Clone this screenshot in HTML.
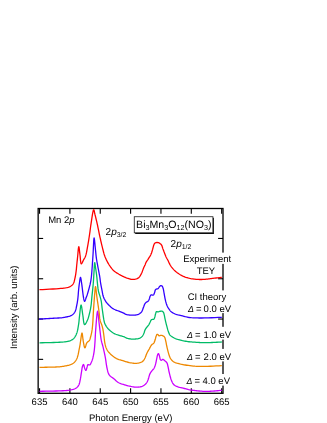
<!DOCTYPE html>
<html><head><meta charset="utf-8"><title>Mn 2p XAS</title>
<style>
html,body{margin:0;padding:0;background:#fff;}
svg{display:block;}
text{font-family:"Liberation Sans",Arial,sans-serif;font-size:9.5px;fill:#000;text-rendering:geometricPrecision;}
.i{font-style:italic;}
</style></head><body>
<svg width="327" height="423" viewBox="0 0 327 423">
<rect width="327" height="423" fill="#fff"/>
<rect x="38.15" y="208.5" width="184.85" height="184.8" fill="none" stroke="#000" stroke-width="1.3"/>
<g stroke="#000" stroke-width="1.1">
<line x1="39.55" y1="393.3" x2="39.55" y2="388.3"/><line x1="39.55" y1="208.5" x2="39.55" y2="213.8"/>
<line x1="69.90" y1="393.3" x2="69.90" y2="388.3"/><line x1="69.90" y1="208.5" x2="69.90" y2="213.8"/>
<line x1="100.25" y1="393.3" x2="100.25" y2="388.3"/><line x1="100.25" y1="208.5" x2="100.25" y2="213.8"/>
<line x1="130.60" y1="393.3" x2="130.60" y2="388.3"/><line x1="130.60" y1="208.5" x2="130.60" y2="213.8"/>
<line x1="160.95" y1="393.3" x2="160.95" y2="388.3"/><line x1="160.95" y1="208.5" x2="160.95" y2="213.8"/>
<line x1="191.30" y1="393.3" x2="191.30" y2="388.3"/><line x1="191.30" y1="208.5" x2="191.30" y2="213.8"/>
<line x1="221.65" y1="393.3" x2="221.65" y2="388.3"/><line x1="221.65" y1="208.5" x2="221.65" y2="213.8"/>
<line x1="38.15" y1="238.45" x2="43.15" y2="238.45"/><line x1="223.0" y1="238.45" x2="218.1" y2="238.45"/>
<line x1="38.15" y1="278.75" x2="43.15" y2="278.75"/><line x1="223.0" y1="278.75" x2="218.1" y2="278.75"/>
<line x1="38.15" y1="319.05" x2="43.15" y2="319.05"/><line x1="223.0" y1="319.05" x2="218.1" y2="319.05"/>
<line x1="38.15" y1="359.35" x2="43.15" y2="359.35"/><line x1="223.0" y1="359.35" x2="218.1" y2="359.35"/>
</g>
<g>
<polyline points="39.50,391.30 42.80,391.24 46.18,391.20 49.56,391.15 52.86,391.09 56.00,391.01 58.90,390.90 60.90,390.81 62.82,390.73 64.64,390.63 66.38,390.51 68.03,390.34 69.60,390.10 70.77,389.89 71.91,389.66 72.99,389.41 74.01,389.11 74.95,388.75 75.80,388.30 76.43,387.86 77.00,387.38 77.52,386.85 77.99,386.27 78.41,385.66 78.80,385.00 79.17,384.19 79.47,383.31 79.70,382.38 79.91,381.40 80.10,380.41 80.30,379.40 80.53,378.22 80.74,376.99 80.93,375.72 81.12,374.45 81.31,373.20 81.50,372.00 81.67,370.91 81.84,369.80 82.00,368.70 82.18,367.67 82.37,366.75 82.60,366.00 82.74,365.64 82.89,365.29 83.04,364.98 83.20,364.72 83.35,364.55 83.50,364.50 83.71,364.73 83.90,365.27 84.09,366.02 84.28,366.86 84.48,367.65 84.70,368.30 84.89,368.74 85.09,369.22 85.30,369.67 85.51,370.05 85.71,370.31 85.90,370.40 86.10,370.23 86.29,369.82 86.48,369.25 86.66,368.60 86.83,367.96 87.00,367.40 87.14,366.91 87.25,366.37 87.36,365.84 87.49,365.36 87.66,364.96 87.90,364.70 88.16,364.63 88.48,364.68 88.83,364.78 89.18,364.89 89.51,364.95 89.80,364.90 90.07,364.70 90.31,364.41 90.52,364.05 90.71,363.64 90.90,363.22 91.10,362.80 91.35,362.27 91.60,361.70 91.84,361.10 92.07,360.48 92.29,359.84 92.50,359.20 92.72,358.47 92.92,357.72 93.10,356.94 93.28,356.16 93.45,355.38 93.60,354.60 93.74,353.85 93.87,353.10 93.99,352.36 94.09,351.60 94.20,350.82 94.30,350.00 94.42,348.98 94.52,347.95 94.62,346.88 94.71,345.76 94.80,344.57 94.90,343.30 95.03,341.32 95.14,339.17 95.26,336.88 95.38,334.49 95.52,332.05 95.70,329.60 95.96,326.26 96.26,322.30 96.59,318.27 96.94,314.71 97.28,312.17 97.60,311.20 97.83,311.74 98.06,313.16 98.29,315.20 98.52,317.57 98.76,320.00 99.00,322.20 99.31,324.80 99.65,327.69 99.99,330.66 100.32,333.50 100.63,336.02 100.90,338.00 101.00,338.68 101.09,339.25 101.18,339.75 101.27,340.22 101.37,340.73 101.50,341.30 101.71,342.17 101.96,343.08 102.24,344.03 102.53,345.04 102.82,346.09 103.10,347.20 103.48,348.80 103.88,350.55 104.28,352.38 104.68,354.25 105.06,356.11 105.40,357.90 105.67,359.54 105.91,361.19 106.12,362.82 106.34,364.42 106.59,365.99 106.90,367.50 107.19,368.84 107.48,370.17 107.80,371.47 108.17,372.72 108.62,373.87 109.20,374.90 109.83,375.68 110.56,376.35 111.35,376.96 112.18,377.52 113.01,378.09 113.80,378.70 114.54,379.35 115.26,380.02 115.97,380.70 116.71,381.35 117.47,381.96 118.30,382.50 119.24,382.99 120.23,383.42 121.26,383.79 122.32,384.14 123.41,384.47 124.50,384.80 125.72,385.17 126.99,385.54 128.29,385.89 129.59,386.20 130.87,386.48 132.10,386.70 133.16,386.86 134.21,386.99 135.24,387.08 136.26,387.14 137.24,387.15 138.20,387.10 139.02,387.02 139.82,386.90 140.61,386.75 141.37,386.55 142.10,386.30 142.80,386.00 143.46,385.64 144.10,385.22 144.72,384.76 145.29,384.26 145.83,383.73 146.30,383.20 146.67,382.72 146.98,382.23 147.25,381.72 147.50,381.18 147.75,380.61 148.00,380.00 148.33,379.08 148.64,378.03 148.93,376.92 149.23,375.82 149.55,374.79 149.90,373.90 150.17,373.35 150.46,372.86 150.75,372.41 151.06,371.98 151.37,371.54 151.70,371.10 152.07,370.63 152.47,370.18 152.88,369.73 153.29,369.28 153.67,368.80 154.00,368.30 154.29,367.75 154.55,367.20 154.78,366.62 154.99,366.01 155.19,365.37 155.40,364.70 155.66,363.73 155.91,362.65 156.15,361.51 156.37,360.38 156.59,359.29 156.80,358.30 156.95,357.60 157.09,356.90 157.23,356.23 157.37,355.61 157.53,355.06 157.70,354.60 157.81,354.36 157.92,354.13 158.04,353.92 158.16,353.75 158.28,353.63 158.40,353.60 158.55,353.70 158.71,353.93 158.86,354.27 159.01,354.67 159.16,355.09 159.30,355.50 159.49,356.13 159.65,356.88 159.81,357.67 159.98,358.44 160.17,359.11 160.40,359.60 160.53,359.79 160.67,359.95 160.82,360.09 160.97,360.20 161.13,360.27 161.30,360.30 161.51,360.24 161.73,360.08 161.97,359.86 162.20,359.64 162.45,359.47 162.70,359.40 163.00,359.45 163.31,359.60 163.63,359.81 163.95,360.07 164.28,360.34 164.60,360.60 165.00,360.91 165.41,361.23 165.82,361.58 166.22,361.95 166.59,362.36 166.90,362.80 167.17,363.33 167.38,363.91 167.55,364.52 167.70,365.16 167.84,365.82 168.00,366.50 168.19,367.35 168.37,368.25 168.55,369.18 168.72,370.13 168.90,371.07 169.10,372.00 169.32,372.94 169.55,373.92 169.80,374.89 170.04,375.83 170.28,376.71 170.50,377.50 170.63,377.97 170.75,378.39 170.86,378.78 170.98,379.16 171.13,379.56 171.30,380.00 171.58,380.69 171.90,381.46 172.25,382.26 172.65,383.04 173.09,383.77 173.60,384.40 174.14,384.90 174.73,385.33 175.36,385.71 176.04,386.06 176.75,386.38 177.50,386.70 178.52,387.07 179.64,387.40 180.82,387.69 182.02,387.97 183.19,388.23 184.30,388.50 185.21,388.74 186.10,388.98 186.96,389.21 187.82,389.43 188.66,389.63 189.50,389.80 190.27,389.93 191.03,390.04 191.78,390.14 192.53,390.23 193.27,390.31 194.00,390.40 194.67,390.49 195.30,390.58 195.94,390.66 196.58,390.74 197.26,390.82 198.00,390.90 199.11,391.00 200.33,391.11 201.60,391.21 202.91,391.30 204.22,391.37 205.50,391.40 206.74,391.40 207.98,391.37 209.21,391.33 210.46,391.26 211.72,391.18 213.00,391.10 214.43,391.00 215.88,390.87 217.36,390.73 218.84,390.58 220.33,390.44 221.80,390.30" fill="none" stroke="#cc00ff" stroke-width="1.3" stroke-linejoin="round" stroke-linecap="butt"/>
<polyline points="39.50,367.40 40.92,367.37 42.34,367.33 43.77,367.30 45.19,367.27 46.60,367.23 48.00,367.20 49.36,367.17 50.74,367.15 52.11,367.12 53.45,367.09 54.76,367.05 56.00,367.00 56.98,366.95 57.91,366.90 58.82,366.85 59.71,366.78 60.60,366.70 61.50,366.60 62.43,366.47 63.37,366.33 64.31,366.16 65.23,365.98 66.13,365.80 67.00,365.60 67.73,365.43 68.44,365.26 69.14,365.08 69.81,364.88 70.47,364.66 71.10,364.40 71.68,364.13 72.25,363.84 72.80,363.52 73.33,363.18 73.83,362.81 74.30,362.40 74.75,361.94 75.17,361.45 75.57,360.92 75.94,360.36 76.28,359.79 76.60,359.20 76.90,358.57 77.16,357.92 77.39,357.24 77.60,356.55 77.80,355.83 78.00,355.10 78.22,354.23 78.41,353.31 78.59,352.37 78.76,351.43 78.93,350.50 79.10,349.60 79.26,348.81 79.42,348.03 79.57,347.26 79.72,346.50 79.87,345.74 80.00,345.00 80.11,344.33 80.20,343.70 80.29,343.07 80.38,342.42 80.48,341.74 80.60,341.00 80.80,339.64 81.02,337.94 81.27,336.17 81.52,334.58 81.77,333.44 82.00,333.00 82.22,333.45 82.42,334.62 82.62,336.27 82.83,338.13 83.05,339.96 83.30,341.50 83.54,342.77 83.79,344.17 84.05,345.55 84.32,346.74 84.61,347.57 84.90,347.90 85.16,347.65 85.43,346.96 85.71,346.02 85.99,344.99 86.29,344.03 86.60,343.30 86.81,342.97 87.01,342.67 87.23,342.41 87.45,342.16 87.67,341.93 87.90,341.70 88.13,341.51 88.37,341.35 88.61,341.20 88.86,341.04 89.09,340.85 89.30,340.60 89.59,340.09 89.85,339.48 90.08,338.79 90.29,338.04 90.49,337.27 90.70,336.50 90.95,335.57 91.19,334.60 91.41,333.59 91.63,332.57 91.82,331.53 92.00,330.50 92.16,329.44 92.29,328.36 92.41,327.28 92.51,326.19 92.61,325.09 92.70,324.00 92.78,322.89 92.86,321.79 92.92,320.68 92.98,319.56 93.04,318.43 93.10,317.30 93.17,316.10 93.23,314.88 93.29,313.66 93.36,312.43 93.43,311.21 93.50,310.00 93.58,308.83 93.65,307.69 93.74,306.55 93.82,305.39 93.91,304.22 94.00,303.00 94.11,301.55 94.22,300.05 94.33,298.51 94.45,296.98 94.57,295.46 94.70,294.00 94.82,292.55 94.94,290.93 95.07,289.33 95.20,287.95 95.34,286.97 95.50,286.60 95.71,287.14 95.93,288.55 96.17,290.55 96.41,292.82 96.66,295.07 96.90,297.00 97.12,298.54 97.34,300.06 97.56,301.56 97.78,303.03 97.99,304.48 98.20,305.90 98.38,307.13 98.55,308.33 98.72,309.50 98.89,310.67 99.05,311.83 99.20,313.00 99.33,314.18 99.43,315.39 99.53,316.59 99.64,317.77 99.79,318.91 100.00,320.00 100.25,320.90 100.55,321.75 100.87,322.59 101.21,323.40 101.52,324.20 101.80,325.00 102.02,325.71 102.21,326.40 102.40,327.07 102.57,327.76 102.74,328.46 102.90,329.20 103.07,330.10 103.23,331.02 103.37,331.97 103.51,332.95 103.65,333.96 103.80,335.00 103.97,336.33 104.14,337.75 104.30,339.21 104.48,340.66 104.68,342.05 104.90,343.30 105.08,344.16 105.27,344.96 105.46,345.73 105.68,346.46 105.92,347.18 106.20,347.90 106.49,348.58 106.79,349.23 107.11,349.87 107.47,350.50 107.90,351.14 108.40,351.80 109.28,352.82 110.33,353.91 111.50,355.01 112.74,356.08 114.03,357.06 115.30,357.90 116.50,358.54 117.75,359.07 119.02,359.52 120.31,359.92 121.61,360.31 122.90,360.70 124.18,361.11 125.48,361.51 126.79,361.89 128.09,362.25 129.36,362.55 130.60,362.80 131.66,362.98 132.71,363.13 133.75,363.24 134.76,363.32 135.74,363.34 136.70,363.30 137.53,363.21 138.36,363.08 139.18,362.90 139.95,362.69 140.66,362.46 141.30,362.20 141.70,362.01 142.07,361.81 142.40,361.59 142.71,361.36 143.01,361.09 143.30,360.80 143.62,360.42 143.92,359.99 144.20,359.54 144.47,359.05 144.73,358.53 145.00,358.00 145.33,357.28 145.63,356.49 145.93,355.66 146.24,354.81 146.56,353.99 146.90,353.20 147.26,352.49 147.63,351.80 148.02,351.12 148.42,350.45 148.81,349.78 149.20,349.10 149.58,348.39 149.94,347.66 150.31,346.93 150.68,346.23 151.08,345.57 151.50,345.00 151.87,344.63 152.27,344.32 152.69,344.04 153.10,343.77 153.47,343.46 153.80,343.10 154.09,342.64 154.34,342.13 154.55,341.59 154.74,341.03 154.92,340.46 155.10,339.90 155.28,339.30 155.45,338.68 155.61,338.04 155.76,337.42 155.92,336.83 156.10,336.30 156.24,335.91 156.37,335.52 156.51,335.14 156.65,334.81 156.82,334.56 157.00,334.40 157.14,334.36 157.28,334.36 157.44,334.39 157.59,334.45 157.75,334.52 157.90,334.60 158.09,334.76 158.28,334.98 158.46,335.23 158.66,335.48 158.87,335.68 159.10,335.80 159.39,335.82 159.72,335.74 160.06,335.60 160.42,335.46 160.76,335.34 161.10,335.30 161.41,335.32 161.72,335.37 162.02,335.44 162.32,335.54 162.61,335.66 162.90,335.80 163.21,335.97 163.51,336.16 163.81,336.37 164.10,336.61 164.36,336.89 164.60,337.20 164.86,337.68 165.07,338.23 165.25,338.85 165.40,339.49 165.55,340.15 165.70,340.80 165.87,341.51 166.01,342.24 166.15,342.98 166.29,343.73 166.44,344.51 166.60,345.30 166.81,346.26 167.03,347.27 167.27,348.31 167.51,349.34 167.76,350.35 168.00,351.30 168.21,352.09 168.42,352.86 168.63,353.61 168.84,354.33 169.07,355.03 169.30,355.70 169.49,356.23 169.68,356.73 169.87,357.21 170.08,357.67 170.32,358.14 170.60,358.60 170.98,359.15 171.40,359.70 171.86,360.25 172.36,360.77 172.91,361.26 173.50,361.70 174.25,362.14 175.09,362.52 175.98,362.85 176.91,363.15 177.86,363.43 178.80,363.70 179.81,363.97 180.83,364.21 181.87,364.42 182.94,364.62 184.04,364.81 185.20,365.00 186.71,365.24 188.30,365.47 189.96,365.69 191.64,365.89 193.33,366.06 195.00,366.20 196.63,366.30 198.23,366.37 199.83,366.40 201.47,366.42 203.18,366.42 205.00,366.40 207.55,366.35 210.28,366.25 213.13,366.12 216.04,365.97 218.95,365.83 221.80,365.70" fill="none" stroke="#ee8800" stroke-width="1.3" stroke-linejoin="round" stroke-linecap="butt"/>
<polyline points="39.50,342.80 42.31,342.74 45.18,342.68 48.05,342.63 50.86,342.57 53.53,342.49 56.00,342.40 57.73,342.33 59.38,342.25 60.97,342.17 62.47,342.08 63.88,341.96 65.20,341.80 66.07,341.67 66.88,341.55 67.65,341.40 68.39,341.24 69.10,341.04 69.80,340.80 70.45,340.54 71.10,340.26 71.72,339.94 72.32,339.60 72.88,339.22 73.40,338.80 73.86,338.35 74.28,337.85 74.67,337.32 75.04,336.76 75.38,336.19 75.70,335.60 76.02,334.96 76.32,334.30 76.59,333.61 76.84,332.91 77.08,332.17 77.30,331.40 77.55,330.39 77.79,329.28 77.99,328.13 78.18,327.00 78.35,325.93 78.50,325.00 78.58,324.48 78.65,324.03 78.72,323.61 78.78,323.18 78.83,322.73 78.90,322.20 79.01,321.24 79.11,320.18 79.21,319.03 79.33,317.81 79.46,316.56 79.60,315.30 79.81,313.46 80.04,311.26 80.29,308.99 80.56,306.99 80.83,305.55 81.10,305.00 81.37,305.51 81.65,306.86 81.93,308.76 82.22,310.94 82.51,313.11 82.80,315.00 83.07,316.84 83.30,318.92 83.54,321.00 83.82,322.83 84.16,324.14 84.60,324.70 85.02,324.52 85.51,323.94 86.03,323.07 86.56,322.04 87.06,320.98 87.50,320.00 87.93,318.93 88.32,317.80 88.68,316.62 89.00,315.41 89.31,314.19 89.60,313.00 89.88,311.84 90.14,310.68 90.38,309.52 90.60,308.34 90.81,307.14 91.00,305.90 91.19,304.47 91.34,303.02 91.48,301.54 91.61,300.02 91.75,298.44 91.90,296.80 92.12,294.65 92.37,292.35 92.62,289.98 92.87,287.59 93.10,285.24 93.30,283.00 93.45,281.09 93.57,279.21 93.68,277.37 93.78,275.56 93.89,273.77 94.00,272.00 94.11,270.17 94.21,268.12 94.31,266.08 94.42,264.32 94.55,263.08 94.70,262.60 94.83,262.86 94.98,263.57 95.13,264.58 95.29,265.74 95.45,266.93 95.60,268.00 95.77,269.08 95.93,270.16 96.09,271.26 96.26,272.42 96.42,273.66 96.60,275.00 96.87,277.37 97.13,280.13 97.41,283.07 97.71,285.98 98.03,288.66 98.40,290.90 98.65,292.00 98.92,292.97 99.19,293.87 99.47,294.71 99.75,295.55 100.00,296.40 100.22,297.17 100.43,297.91 100.64,298.63 100.83,299.37 101.02,300.15 101.20,301.00 101.41,302.24 101.59,303.56 101.75,304.96 101.91,306.43 102.09,307.94 102.30,309.50 102.61,311.69 102.96,314.16 103.33,316.70 103.73,319.15 104.16,321.31 104.60,323.00 104.81,323.60 105.03,324.11 105.25,324.55 105.48,324.95 105.73,325.36 106.00,325.80 106.33,326.33 106.68,326.86 107.05,327.39 107.46,327.93 107.90,328.46 108.40,329.00 109.14,329.73 109.98,330.50 110.88,331.27 111.84,332.01 112.82,332.70 113.80,333.30 114.80,333.80 115.86,334.24 116.94,334.63 118.01,334.98 119.05,335.29 120.00,335.60 120.67,335.81 121.30,335.99 121.91,336.16 122.51,336.32 123.10,336.50 123.70,336.70 124.31,336.95 124.90,337.23 125.50,337.53 126.09,337.81 126.69,338.08 127.30,338.30 127.90,338.47 128.50,338.62 129.11,338.74 129.73,338.85 130.36,338.93 131.00,339.00 131.74,339.06 132.51,339.09 133.30,339.10 134.09,339.09 134.86,339.06 135.60,339.00 136.25,338.94 136.90,338.86 137.53,338.77 138.14,338.65 138.74,338.50 139.30,338.30 139.80,338.08 140.29,337.82 140.75,337.54 141.19,337.23 141.61,336.88 142.00,336.50 142.38,336.05 142.73,335.55 143.05,335.01 143.35,334.44 143.63,333.87 143.90,333.30 144.15,332.70 144.35,332.07 144.54,331.43 144.73,330.79 144.94,330.18 145.20,329.60 145.48,329.11 145.78,328.64 146.11,328.19 146.44,327.76 146.77,327.33 147.10,326.90 147.41,326.51 147.72,326.13 148.04,325.75 148.34,325.38 148.63,325.00 148.90,324.60 149.13,324.20 149.33,323.78 149.52,323.36 149.71,322.94 149.89,322.51 150.10,322.10 150.31,321.67 150.51,321.22 150.72,320.77 150.94,320.35 151.20,319.99 151.50,319.70 151.84,319.54 152.25,319.47 152.68,319.44 153.10,319.42 153.49,319.35 153.80,319.20 154.02,318.98 154.19,318.72 154.34,318.43 154.46,318.10 154.58,317.76 154.70,317.40 154.87,316.85 155.02,316.23 155.16,315.57 155.29,314.90 155.44,314.27 155.60,313.70 155.73,313.28 155.85,312.85 155.98,312.44 156.12,312.07 156.29,311.78 156.50,311.60 156.70,311.56 156.92,311.60 157.15,311.68 157.40,311.79 157.65,311.87 157.90,311.90 158.18,311.87 158.47,311.79 158.77,311.69 159.07,311.58 159.38,311.48 159.70,311.40 160.07,311.33 160.47,311.25 160.88,311.18 161.28,311.14 161.66,311.14 162.00,311.20 162.27,311.30 162.53,311.44 162.77,311.62 163.00,311.82 163.21,312.05 163.40,312.30 163.61,312.67 163.78,313.09 163.92,313.56 164.05,314.05 164.17,314.57 164.30,315.10 164.46,315.79 164.60,316.52 164.74,317.28 164.88,318.07 165.03,318.88 165.20,319.70 165.43,320.73 165.69,321.81 165.96,322.92 166.24,324.04 166.52,325.14 166.80,326.20 167.06,327.16 167.32,328.13 167.58,329.09 167.84,330.01 168.12,330.89 168.40,331.70 168.61,332.29 168.82,332.85 169.03,333.38 169.26,333.89 169.51,334.36 169.80,334.80 170.09,335.16 170.41,335.47 170.74,335.76 171.10,336.04 171.49,336.32 171.90,336.60 172.48,336.98 173.12,337.37 173.80,337.75 174.52,338.13 175.25,338.48 176.00,338.80 176.85,339.12 177.74,339.42 178.66,339.68 179.59,339.93 180.54,340.17 181.50,340.40 182.53,340.64 183.58,340.86 184.64,341.07 185.72,341.26 186.81,341.44 187.90,341.60 189.06,341.74 190.24,341.86 191.44,341.95 192.63,342.04 193.82,342.12 195.00,342.20 196.11,342.28 197.19,342.36 198.27,342.44 199.37,342.51 200.50,342.56 201.70,342.60 203.29,342.63 204.98,342.63 206.73,342.62 208.50,342.59 210.27,342.55 212.00,342.50 213.65,342.44 215.29,342.36 216.92,342.27 218.54,342.18 220.17,342.09 221.80,342.00" fill="none" stroke="#00bb66" stroke-width="1.3" stroke-linejoin="round" stroke-linecap="butt"/>
<polyline points="39.00,319.10 40.51,319.02 42.02,318.93 43.53,318.85 45.04,318.77 46.53,318.69 48.00,318.60 49.38,318.52 50.76,318.43 52.12,318.34 53.46,318.26 54.76,318.17 56.00,318.10 56.98,318.05 57.93,318.01 58.85,317.98 59.74,317.94 60.63,317.88 61.50,317.80 62.30,317.70 63.09,317.58 63.86,317.44 64.62,317.30 65.37,317.15 66.10,317.00 66.75,316.87 67.38,316.75 68.00,316.62 68.62,316.48 69.21,316.31 69.80,316.10 70.37,315.87 70.93,315.61 71.49,315.34 72.02,315.03 72.53,314.68 73.00,314.30 73.46,313.86 73.88,313.38 74.28,312.86 74.65,312.30 74.99,311.71 75.30,311.10 75.60,310.34 75.85,309.52 76.06,308.66 76.24,307.77 76.42,306.88 76.60,306.00 76.79,305.10 76.97,304.19 77.15,303.27 77.31,302.34 77.46,301.42 77.60,300.50 77.73,299.57 77.84,298.64 77.94,297.70 78.03,296.77 78.12,295.87 78.20,295.00 78.26,294.31 78.30,293.66 78.35,293.03 78.39,292.39 78.44,291.72 78.50,291.00 78.60,289.94 78.72,288.80 78.84,287.61 78.98,286.39 79.14,285.18 79.30,284.00 79.48,282.73 79.67,281.29 79.87,279.86 80.09,278.62 80.30,277.73 80.50,277.40 80.68,277.66 80.87,278.36 81.05,279.37 81.24,280.56 81.42,281.81 81.60,283.00 81.86,284.79 82.12,286.84 82.37,289.02 82.62,291.18 82.87,293.19 83.10,294.90 83.24,295.82 83.36,296.67 83.49,297.46 83.61,298.20 83.75,298.88 83.90,299.50 84.01,299.91 84.12,300.34 84.23,300.73 84.35,301.07 84.47,301.31 84.60,301.40 84.71,301.35 84.83,301.20 84.95,300.98 85.07,300.73 85.19,300.45 85.30,300.20 85.43,299.88 85.54,299.54 85.65,299.18 85.75,298.80 85.87,298.40 86.00,298.00 86.19,297.48 86.39,296.95 86.61,296.39 86.84,295.80 87.07,295.18 87.30,294.50 87.66,293.35 88.05,292.03 88.44,290.62 88.83,289.21 89.19,287.87 89.50,286.70 89.68,286.01 89.84,285.40 89.99,284.81 90.13,284.24 90.26,283.65 90.40,283.00 90.56,282.19 90.72,281.39 90.87,280.56 91.01,279.65 91.15,278.65 91.30,277.50 91.60,274.60 91.89,271.02 92.19,267.01 92.47,262.83 92.75,258.75 93.00,255.00 93.20,251.64 93.37,247.90 93.54,244.23 93.71,241.07 93.89,238.84 94.10,238.00 94.28,238.50 94.48,239.84 94.69,241.74 94.90,243.91 95.10,246.09 95.30,248.00 95.48,249.71 95.65,251.43 95.81,253.15 95.99,254.87 96.18,256.59 96.40,258.30 96.66,260.02 96.95,261.74 97.26,263.46 97.58,265.17 97.89,266.86 98.20,268.50 98.48,269.98 98.76,271.44 99.05,272.89 99.32,274.30 99.57,275.68 99.80,277.00 99.96,278.05 100.09,279.05 100.20,280.03 100.32,281.00 100.45,281.98 100.60,283.00 100.80,284.18 101.02,285.40 101.26,286.63 101.51,287.87 101.76,289.10 102.00,290.30 102.21,291.42 102.41,292.55 102.61,293.66 102.83,294.75 103.09,295.80 103.40,296.80 103.72,297.63 104.08,298.43 104.47,299.20 104.88,299.94 105.29,300.64 105.70,301.30 106.02,301.80 106.34,302.25 106.66,302.68 107.00,303.10 107.37,303.54 107.80,304.00 108.50,304.74 109.29,305.53 110.15,306.35 111.06,307.16 112.02,307.92 113.00,308.60 114.10,309.22 115.30,309.78 116.54,310.28 117.77,310.75 118.94,311.18 120.00,311.60 120.69,311.88 121.34,312.14 121.96,312.38 122.56,312.61 123.13,312.85 123.70,313.10 124.17,313.34 124.60,313.59 125.02,313.85 125.45,314.09 125.90,314.31 126.40,314.50 127.09,314.68 127.83,314.82 128.61,314.92 129.41,315.00 130.22,315.06 131.00,315.10 131.78,315.14 132.57,315.16 133.36,315.16 134.13,315.14 134.89,315.08 135.60,315.00 136.18,314.91 136.73,314.80 137.27,314.68 137.80,314.52 138.30,314.33 138.80,314.10 139.31,313.81 139.82,313.49 140.31,313.12 140.77,312.72 141.20,312.28 141.60,311.80 141.99,311.20 142.32,310.52 142.61,309.79 142.87,309.04 143.13,308.30 143.40,307.60 143.64,306.97 143.87,306.32 144.09,305.68 144.31,305.07 144.54,304.50 144.80,304.00 145.00,303.68 145.20,303.38 145.40,303.11 145.62,302.86 145.85,302.63 146.10,302.40 146.39,302.19 146.72,302.03 147.06,301.87 147.40,301.71 147.72,301.53 148.00,301.30 148.27,301.00 148.51,300.66 148.73,300.29 148.93,299.90 149.12,299.50 149.30,299.10 149.46,298.65 149.59,298.16 149.70,297.66 149.81,297.17 149.93,296.71 150.10,296.30 150.25,296.01 150.41,295.73 150.57,295.46 150.76,295.23 150.97,295.04 151.20,294.90 151.51,294.85 151.87,294.91 152.25,295.02 152.64,295.13 152.99,295.17 153.30,295.10 153.57,294.87 153.80,294.54 154.00,294.14 154.17,293.69 154.33,293.24 154.50,292.80 154.66,292.32 154.80,291.80 154.92,291.26 155.05,290.74 155.21,290.28 155.40,289.90 155.56,289.69 155.73,289.51 155.91,289.36 156.10,289.22 156.30,289.11 156.50,289.00 156.72,288.93 156.95,288.89 157.20,288.87 157.44,288.85 157.68,288.80 157.90,288.70 158.16,288.49 158.39,288.20 158.62,287.87 158.84,287.52 159.07,287.19 159.30,286.90 159.51,286.66 159.72,286.41 159.93,286.18 160.14,285.97 160.37,285.80 160.60,285.70 160.83,285.66 161.07,285.66 161.32,285.69 161.56,285.76 161.79,285.86 162.00,286.00 162.24,286.25 162.45,286.57 162.63,286.96 162.79,287.39 162.95,287.84 163.10,288.30 163.29,288.95 163.45,289.66 163.59,290.42 163.72,291.21 163.86,292.00 164.00,292.80 164.16,293.69 164.33,294.61 164.49,295.55 164.65,296.48 164.82,297.41 165.00,298.30 165.17,299.10 165.34,299.89 165.51,300.66 165.69,301.43 165.89,302.17 166.10,302.90 166.30,303.55 166.52,304.19 166.74,304.81 166.97,305.43 167.23,306.02 167.50,306.60 167.78,307.14 168.09,307.67 168.41,308.18 168.74,308.68 169.08,309.15 169.40,309.60 169.65,309.95 169.89,310.28 170.13,310.59 170.38,310.89 170.67,311.20 171.00,311.50 171.56,311.94 172.19,312.39 172.89,312.83 173.63,313.25 174.41,313.64 175.20,314.00 176.12,314.34 177.09,314.63 178.10,314.88 179.15,315.11 180.21,315.35 181.30,315.60 182.57,315.93 183.88,316.28 185.21,316.63 186.59,316.96 188.02,317.26 189.50,317.50 191.35,317.71 193.27,317.85 195.25,317.93 197.31,317.97 199.46,317.99 201.70,318.00 204.76,317.97 208.03,317.88 211.44,317.74 214.92,317.59 218.39,317.43 221.80,317.30" fill="none" stroke="#3300ff" stroke-width="1.3" stroke-linejoin="round" stroke-linecap="butt"/>
<polyline points="39.40,289.70 42.73,289.53 46.17,289.36 49.61,289.20 52.94,289.02 56.07,288.83 58.90,288.60 60.69,288.44 62.40,288.30 64.01,288.14 65.51,287.96 66.88,287.72 68.10,287.40 68.80,287.16 69.43,286.89 70.00,286.60 70.53,286.29 71.03,285.96 71.50,285.60 71.90,285.27 72.26,284.94 72.60,284.59 72.92,284.21 73.22,283.79 73.50,283.30 73.88,282.45 74.20,281.44 74.49,280.35 74.74,279.20 74.98,278.07 75.20,277.00 75.39,276.07 75.56,275.17 75.71,274.27 75.84,273.37 75.97,272.45 76.10,271.50 76.23,270.39 76.36,269.24 76.47,268.07 76.57,266.88 76.68,265.69 76.80,264.50 76.93,263.28 77.05,262.06 77.18,260.84 77.32,259.60 77.45,258.32 77.60,257.00 77.78,255.14 77.97,252.93 78.17,250.67 78.38,248.67 78.59,247.25 78.80,246.70 78.99,247.12 79.19,248.22 79.39,249.79 79.59,251.60 79.80,253.41 80.00,255.00 80.19,256.66 80.35,258.57 80.51,260.49 80.71,262.18 80.96,263.39 81.30,263.90 81.61,263.74 81.96,263.23 82.34,262.49 82.74,261.62 83.13,260.76 83.50,260.00 83.86,259.35 84.23,258.73 84.59,258.10 84.94,257.44 85.28,256.72 85.60,255.90 86.06,254.38 86.48,252.63 86.86,250.72 87.22,248.72 87.56,246.72 87.90,244.80 88.23,242.92 88.55,241.02 88.85,239.12 89.14,237.23 89.43,235.35 89.70,233.50 89.94,231.79 90.16,230.11 90.37,228.46 90.59,226.79 90.83,225.08 91.10,223.30 91.48,220.83 91.91,217.91 92.38,214.93 92.84,212.30 93.29,210.42 93.70,209.70 93.91,209.91 94.11,210.47 94.30,211.28 94.49,212.25 94.69,213.25 94.90,214.20 95.23,215.52 95.59,216.95 95.97,218.48 96.35,220.06 96.73,221.68 97.10,223.30 97.52,225.23 97.94,227.29 98.37,229.40 98.78,231.45 99.16,233.35 99.50,235.00 99.68,235.86 99.85,236.60 100.00,237.29 100.15,237.97 100.31,238.69 100.50,239.50 100.80,240.81 101.14,242.26 101.50,243.79 101.87,245.35 102.24,246.87 102.60,248.30 102.89,249.48 103.18,250.63 103.46,251.76 103.75,252.86 104.06,253.94 104.40,255.00 104.74,255.96 105.09,256.89 105.46,257.80 105.85,258.70 106.26,259.60 106.70,260.50 107.18,261.44 107.68,262.37 108.21,263.31 108.75,264.23 109.32,265.13 109.90,266.00 110.47,266.82 111.05,267.63 111.65,268.43 112.27,269.19 112.92,269.92 113.60,270.60 114.31,271.21 115.05,271.78 115.83,272.32 116.62,272.83 117.41,273.32 118.20,273.80 118.95,274.26 119.71,274.69 120.46,275.12 121.23,275.52 122.01,275.92 122.80,276.30 123.64,276.69 124.51,277.08 125.39,277.45 126.27,277.80 127.14,278.12 128.00,278.40 128.76,278.64 129.50,278.87 130.23,279.08 130.97,279.25 131.73,279.36 132.50,279.40 133.41,279.37 134.38,279.29 135.36,279.14 136.32,278.91 137.21,278.60 138.00,278.20 138.62,277.73 139.17,277.18 139.67,276.56 140.12,275.88 140.56,275.15 141.00,274.40 141.54,273.35 142.05,272.15 142.53,270.88 142.98,269.63 143.41,268.48 143.80,267.50 144.02,267.01 144.24,266.57 144.44,266.17 144.63,265.79 144.82,265.40 145.00,265.00 145.17,264.59 145.32,264.18 145.47,263.77 145.62,263.36 145.79,262.94 146.00,262.50 146.31,261.93 146.68,261.36 147.07,260.76 147.48,260.15 147.90,259.53 148.30,258.90 148.76,258.17 149.23,257.41 149.72,256.64 150.19,255.86 150.62,255.07 151.00,254.30 151.29,253.61 151.55,252.92 151.77,252.23 151.98,251.53 152.18,250.82 152.40,250.10 152.64,249.26 152.87,248.37 153.10,247.47 153.33,246.59 153.56,245.79 153.80,245.10 153.94,244.73 154.07,244.39 154.20,244.07 154.35,243.78 154.51,243.53 154.70,243.30 154.90,243.13 155.13,242.98 155.37,242.86 155.62,242.76 155.87,242.67 156.10,242.60 156.29,242.55 156.46,242.52 156.64,242.50 156.82,242.49 157.01,242.49 157.20,242.50 157.45,242.52 157.72,242.54 158.00,242.58 158.27,242.64 158.54,242.71 158.80,242.80 159.05,242.91 159.29,243.04 159.52,243.19 159.75,243.35 159.98,243.52 160.20,243.70 160.45,243.90 160.69,244.10 160.93,244.31 161.17,244.54 161.39,244.80 161.60,245.10 161.86,245.60 162.09,246.19 162.29,246.83 162.49,247.50 162.69,248.16 162.90,248.80 163.12,249.40 163.35,249.99 163.58,250.58 163.82,251.17 164.05,251.78 164.30,252.40 164.58,253.15 164.88,253.93 165.17,254.73 165.48,255.53 165.79,256.29 166.10,257.00 166.36,257.53 166.63,258.02 166.89,258.49 167.17,258.96 167.45,259.45 167.75,260.00 168.16,260.83 168.58,261.74 169.02,262.69 169.48,263.66 169.97,264.61 170.50,265.50 171.05,266.32 171.63,267.12 172.23,267.91 172.86,268.66 173.52,269.39 174.20,270.10 174.91,270.78 175.66,271.44 176.43,272.07 177.22,272.68 178.01,273.25 178.80,273.80 179.53,274.28 180.26,274.73 180.99,275.15 181.74,275.55 182.51,275.93 183.30,276.30 184.18,276.67 185.09,277.03 186.03,277.36 186.98,277.66 187.94,277.95 188.90,278.20 189.90,278.43 190.92,278.63 191.95,278.80 192.99,278.95 194.01,279.08 195.00,279.20 195.89,279.29 196.77,279.36 197.63,279.42 198.49,279.46 199.34,279.49 200.20,279.50 201.04,279.50 201.87,279.48 202.70,279.45 203.53,279.41 204.37,279.36 205.20,279.30 206.04,279.22 206.89,279.13 207.73,279.03 208.58,278.92 209.43,278.81 210.30,278.70 211.23,278.59 212.17,278.47 213.13,278.35 214.08,278.23 215.04,278.11 216.00,278.00 216.96,277.89 217.93,277.79 218.90,277.69 219.86,277.60 220.83,277.50 221.80,277.40" fill="none" stroke="#ff0000" stroke-width="1.3" stroke-linejoin="round" stroke-linecap="butt"/>
</g>
<g>
<text x="39.55" y="405.3" text-anchor="middle">635</text>
<text x="69.90" y="405.3" text-anchor="middle">640</text>
<text x="100.25" y="405.3" text-anchor="middle">645</text>
<text x="130.60" y="405.3" text-anchor="middle">650</text>
<text x="160.95" y="405.3" text-anchor="middle">655</text>
<text x="191.30" y="405.3" text-anchor="middle">660</text>
<text x="221.65" y="405.3" text-anchor="middle">665</text>
</g>
<text x="130.7" y="421.4" text-anchor="middle">Photon Energy (eV)</text>
<text transform="translate(17.1,307.3) rotate(-90)" text-anchor="middle">Intensity (arb. units)</text>
<text x="48.2" y="222.9">Mn 2<tspan class="i">p</tspan></text>
<text x="105.6" y="234.6" style="font-size:10px">2<tspan class="i">p</tspan><tspan style="font-size:7px" dy="2.3">3/2</tspan></text>
<text x="170.6" y="246.6" style="font-size:10px">2<tspan class="i">p</tspan><tspan style="font-size:7px" dy="2.3">1/2</tspan></text>
<rect x="135.2" y="217.8" width="78.7" height="16.2" fill="#000"/>
<rect x="134.3" y="216.7" width="78.6" height="16.1" fill="#fff" stroke="#333" stroke-width="0.9"/>
<text x="136.1" y="227.7" style="font-size:10.6px">Bi<tspan font-size="7.2" dy="2.4">3</tspan><tspan dy="-2.4">Mn</tspan><tspan font-size="7.2" dy="2.4">3</tspan><tspan dy="-2.4">O</tspan><tspan font-size="7.2" dy="2.4">12</tspan><tspan dy="-2.4">(NO</tspan><tspan font-size="7.2" dy="2.4">3</tspan><tspan dy="-2.4">)</tspan></text>
<rect x="182" y="252.6" width="51" height="11.3" fill="#fff"/>
<text x="183.2" y="262.0">Experiment</text>
<text x="196.7" y="274.4">TEY</text>
<rect x="186" y="290.4" width="47" height="22.7" fill="#fff"/>
<text x="187.7" y="299.5">CI theory</text>
<text y="311.6"><tspan class="i" style="font-size:8.8px" x="188.0">Δ</tspan><tspan x="196.0">=</tspan><tspan x="203.6">0.0 eV</tspan></text>
<rect x="186" y="326.8" width="47" height="12.8" fill="#fff"/>
<text y="337.8"><tspan class="i" style="font-size:8.8px" x="187.0">Δ</tspan><tspan x="195.1">=</tspan><tspan x="203.6">1.0 eV</tspan></text>
<rect x="186" y="348.9" width="47" height="12.5" fill="#fff"/>
<text y="359.6"><tspan class="i" style="font-size:8.8px" x="187.0">Δ</tspan><tspan x="195.1">=</tspan><tspan x="203.6">2.0 eV</tspan></text>
<rect x="185" y="374" width="47" height="11.6" fill="#fff"/>
<text y="384.0"><tspan class="i" style="font-size:8.8px" x="186.6">Δ</tspan><tspan x="194.5">=</tspan><tspan x="202.5">4.0 eV</tspan></text>
</svg>
</body></html>
